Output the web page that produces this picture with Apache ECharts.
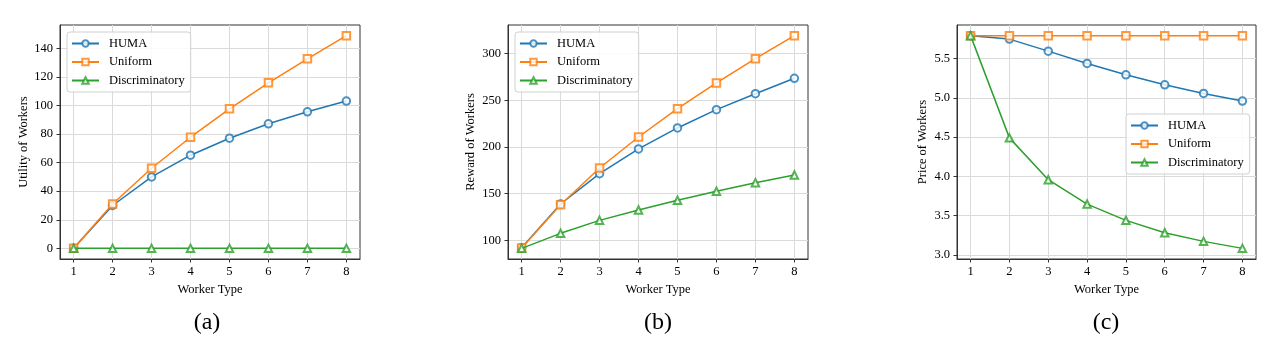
<!DOCTYPE html>
<html><head><meta charset="utf-8">
<script src="https://cdn.jsdelivr.net/npm/echarts@6/dist/echarts.min.js"></script>
<style>html,body{margin:0;padding:0;background:#fff}#c{width:1282px;height:343px}</style>
</head><body><div id="c"></div>
<script>
const workerTypes = [1, 2, 3, 4, 5, 6, 7, 8];
const seriesNames = ['HUMA', 'Uniform', 'Discriminatory'];
const utilityHUMA = [0, 30, 50, 65.2, 77.1, 87.2, 95.6, 103.1];
const utilityUniform = [0, 31.1, 56.1, 77.8, 97.7, 115.9, 132.7, 148.9];
const utilityDisc = [0, 0, 0, 0, 0, 0, 0, 0];
const rewardHUMA = [92.1, 138.9, 171.4, 197.9, 220.4, 240.0, 257.1, 273.6];
const rewardUniform = [91.8, 138.2, 177.5, 210.7, 241.1, 268.6, 294.6, 319.3];
const rewardDisc = [91.4, 107.5, 121.4, 132.5, 142.9, 152.5, 161.8, 170.0];
const priceHUMA = [5.79, 5.746, 5.593, 5.436, 5.292, 5.165, 5.055, 4.958];
const priceUniform = [5.79, 5.79, 5.79, 5.79, 5.79, 5.79, 5.79, 5.79];
const priceDisc = [5.79, 4.49, 3.958, 3.648, 3.441, 3.284, 3.174, 3.085];
const utilityTicks = [0, 20, 40, 60, 80, 100, 120, 140];
const rewardTicks = [100, 150, 200, 250, 300];
const priceTicks = [3.0, 3.5, 4.0, 4.5, 5.0, 5.5];
const yTitles = ['Utility of Workers', 'Reward of Workers', 'Price of Workers'];
const xTitle = 'Worker Type';
const captions = ['(a)', '(b)', '(c)'];

const colors = ['#1f77b4', '#ff7f0e', '#2ca02c'];
const symbols = ['emptyCircle', 'emptyRect', 'emptyTriangle'];
const FONT = 'Liberation Serif';
const panels = [
  {data: [utilityHUMA, utilityUniform, utilityDisc], ticks: utilityTicks, fmt: v => String(v), gap: 30,
   grid: {left: 60, top: 25, width: 300, height: 234}, legend: {left: 67, top: 32}, cap: 202},
  {data: [rewardHUMA, rewardUniform, rewardDisc], ticks: rewardTicks, fmt: v => String(v), gap: 31,
   grid: {left: 508, top: 25, width: 300, height: 234}, legend: {left: 515, top: 32}, cap: 653},
  {data: [priceHUMA, priceUniform, priceDisc], ticks: priceTicks, fmt: v => v.toFixed(1), gap: 28,
   grid: {left: 957, top: 25, width: 299, height: 234}, legend: {left: 1126, top: 114}, cap: 1101}
];

function range(arr) {
  const lo = Math.min(...arr), hi = Math.max(...arr), m = (hi - lo) * 0.05;
  return [lo - m, hi + m];
}
const xr = range(workerTypes);

const option = {
  animation: false,
  backgroundColor: '#fff',
  grid: [], xAxis: [], yAxis: [], series: [], legend: [], title: []
};
const gridLine = {show: true, lineStyle: {color: '#dadada', width: 1}};
panels.forEach((p, i) => {
  option.grid.push(Object.assign({show: true, borderColor: '#333', borderWidth: 1, backgroundColor: 'transparent'}, p.grid));
  option.xAxis.push({
    type: 'value', gridIndex: i, min: xr[0], max: xr[1],
    name: xTitle, nameLocation: 'middle', nameGap: 22,
    nameTextStyle: {fontFamily: FONT, fontSize: 12.5, color: '#000'},
    axisLine: {show: true, onZero: false, lineStyle: {color: '#333'}},
    axisTick: {show: true, inside: false, length: 3.5, lineStyle: {color: '#333'}, customValues: workerTypes},
    axisLabel: {fontFamily: FONT, fontSize: 12.5, color: '#000', margin: 6, customValues: workerTypes},
    splitLine: gridLine
  });
  const all = [].concat(...p.data);
  const yr = range(all);
  option.yAxis.push({
    type: 'value', gridIndex: i, min: yr[0], max: yr[1],
    name: yTitles[i], nameLocation: 'middle', nameGap: p.gap,
    nameTextStyle: {fontFamily: FONT, fontSize: 12.5, color: '#000'},
    axisLine: {show: true, onZero: false, lineStyle: {color: '#333'}},
    axisTick: {show: true, inside: false, length: 3.5, lineStyle: {color: '#333'}, customValues: p.ticks},
    axisLabel: {fontFamily: FONT, fontSize: 12.5, color: '#000', margin: 7, customValues: p.ticks, formatter: p.fmt},
    splitLine: gridLine
  });
  seriesNames.forEach((n, k) => {
    option.series.push({
      type: 'line', name: n, xAxisIndex: i, yAxisIndex: i,
      data: workerTypes.map((x, j) => [x, p.data[k][j]]),
      symbol: symbols[k], symbolSize: 7.5,
      lineStyle: {color: colors[k], width: 1.5},
      itemStyle: {color: colors[k], borderWidth: 1, opacity: 0.8},
      color: colors[k], z: 2 + k
    });
  });
  option.legend.push({
    orient: 'vertical', left: p.legend.left, top: p.legend.top,
    data: seriesNames, itemWidth: 27, itemHeight: 8, itemGap: 5.5,
    padding: [5, 6, 5, 4], borderColor: '#d0d0d0', borderWidth: 1, borderRadius: 3,
    backgroundColor: 'rgba(255,255,255,0.85)',
    textStyle: {fontFamily: FONT, fontSize: 12.5, color: '#000', padding: [0, 0, 0, 5]}
  });
  option.title.push({
    text: captions[i], left: p.cap, top: 306, textAlign: 'center',
    textStyle: {fontFamily: FONT, fontSize: 24, fontWeight: 'normal', color: '#000'}
  });
});
echarts.init(document.getElementById('c'), null, {renderer: 'canvas'}).setOption(option);
</script>
</body></html>
